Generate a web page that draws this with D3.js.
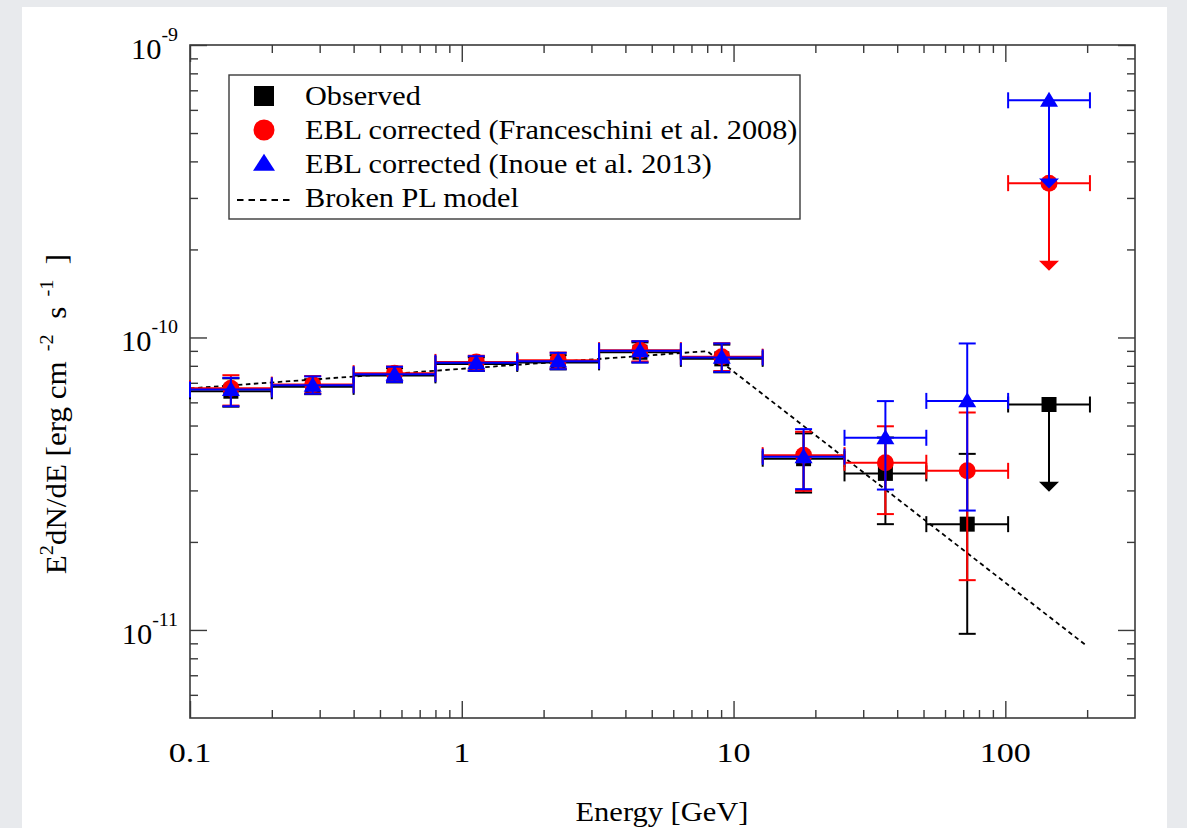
<!DOCTYPE html>
<html><head><meta charset="utf-8">
<script src="https://cdn.jsdelivr.net/npm/d3@7"></script>
<style>
html,body{margin:0;padding:0;background:#e8eaed;}
svg{display:block;}
text{font-family:"Liberation Serif","Times New Roman",serif;fill:#000;}
</style></head>
<body>
<svg id="c" width="1187" height="828"></svg>
<script>
// ---------------- data ----------------
const energy = [0.1414, 0.2828, 0.5657, 1.131, 2.263, 4.525, 9.051, 18.10, 36.20, 72.41, 144.8];
const eLow   = [0.1, 0.2, 0.4, 0.8, 1.6, 3.2, 6.4, 12.8, 25.6, 51.2, 102.4];
const eHigh  = [0.2, 0.4, 0.8, 1.6, 3.2, 6.4, 12.8, 25.6, 51.2, 102.4, 204.8];

// Observed (erg cm^-2 s^-1); last point is an upper limit
const obsVal = [6.55e-11, 6.78e-11, 7.42e-11, 8.12e-11, 8.22e-11, 8.90e-11, 8.45e-11, 3.85e-11, 3.43e-11, 2.30e-11, 5.90e-11];
const obsLo  = [5.80e-11, 6.40e-11, 7.02e-11, 7.68e-11, 7.78e-11, 8.22e-11, 7.60e-11, 2.95e-11, 2.30e-11, 0.97e-11, null];
const obsHi  = [7.25e-11, 7.20e-11, 7.85e-11, 8.55e-11, 8.70e-11, 9.62e-11, 9.45e-11, 4.70e-11, 4.55e-11, 4.00e-11, null];
const obsUL  = [null, null, null, null, null, null, null, null, null, null, 2.97e-11];

// EBL corrected (Franceschini et al. 2008)
const frVal = [6.70e-11, 6.90e-11, 7.55e-11, 8.25e-11, 8.36e-11, 9.05e-11, 8.60e-11, 3.96e-11, 3.73e-11, 3.50e-11, 3.37e-10];
const frLo  = [5.85e-11, 6.44e-11, 7.08e-11, 7.72e-11, 7.82e-11, 8.28e-11, 7.68e-11, 2.99e-11, 2.49e-11, 1.48e-11, null];
const frHi  = [7.43e-11, 7.38e-11, 7.96e-11, 8.66e-11, 8.88e-11, 9.72e-11, 9.56e-11, 4.76e-11, 4.97e-11, 5.54e-11, null];
const frUL  = [null, null, null, null, null, null, null, null, null, null, 1.69e-10];

// EBL corrected (Inoue et al. 2013)
const inVal = [6.64e-11, 6.86e-11, 7.49e-11, 8.19e-11, 8.30e-11, 9.00e-11, 8.55e-11, 3.91e-11, 4.54e-11, 6.07e-11, 6.47e-10];
const inLo  = [5.82e-11, 6.42e-11, 7.05e-11, 7.69e-11, 7.79e-11, 8.21e-11, 7.63e-11, 3.03e-11, 3.02e-11, 2.56e-11, null];
const inHi  = [7.28e-11, 7.36e-11, 7.94e-11, 8.63e-11, 8.86e-11, 9.71e-11, 9.54e-11, 4.86e-11, 6.06e-11, 9.54e-11, null];
const inUL  = [null, null, null, null, null, null, null, null, null, null, 3.23e-10];

// Broken power-law model vertices
const modelE = [0.1, 8.0, 200];
const modelF = [6.70e-11, 8.98e-11, 8.80e-12];

// ticks
const xMajor = [0.1, 1, 10, 100];
const xMajorLabels = ["0.1", "1", "10", "100"];
const xMinor = [0.2,0.3,0.4,0.5,0.6,0.7,0.8,0.9, 2,3,4,5,6,7,8,9, 20,30,40,50,60,70,80,90, 200];
const yMajor = [1e-11, 1e-10, 1e-9];
const yMajorExp = ["-11", "-10", "-9"];
const yMinor = [6e-12,7e-12,8e-12,9e-12, 2e-11,3e-11,4e-11,5e-11,6e-11,7e-11,8e-11,9e-11, 2e-10,3e-10,4e-10,5e-10,6e-10,7e-10,8e-10,9e-10];

const legendLabels = ["Observed", "EBL corrected (Franceschini et al. 2008)", "EBL corrected (Inoue et al. 2013)", "Broken PL model"];

// ---------------- layout ----------------
const svg = d3.select("#c");
svg.append("rect").attr("x", 22).attr("y", 7).attr("width", 1145).attr("height", 821).attr("fill", "#fff");

const L = 190, R = 1135, T = 45, B = 718;
const x = d3.scaleLog().domain([0.1, 300]).range([L, R]);
const y = d3.scaleLog().domain([5e-12, 1e-9]).range([B, T]);

const frameColor = "#3a3a3a";
const axG = svg.append("g");
function styleAxis(g){ g.select(".domain").remove(); g.selectAll("line").attr("stroke", frameColor).attr("stroke-width", 1.4); g.selectAll("text").remove(); }
axG.append("g").attr("transform", `translate(0,${B})`).call(d3.axisBottom(x).tickValues(xMajor).tickSize(-17)).call(styleAxis);
axG.append("g").attr("transform", `translate(0,${B})`).call(d3.axisBottom(x).tickValues(xMinor).tickSize(-8)).call(styleAxis);
axG.append("g").attr("transform", `translate(0,${T})`).call(d3.axisTop(x).tickValues(xMajor).tickSize(-17)).call(styleAxis);
axG.append("g").attr("transform", `translate(0,${T})`).call(d3.axisTop(x).tickValues(xMinor).tickSize(-8)).call(styleAxis);
axG.append("g").attr("transform", `translate(${L},0)`).call(d3.axisLeft(y).tickValues(yMajor).tickSize(-17)).call(styleAxis);
axG.append("g").attr("transform", `translate(${L},0)`).call(d3.axisLeft(y).tickValues(yMinor).tickSize(-8)).call(styleAxis);
axG.append("g").attr("transform", `translate(${R},0)`).call(d3.axisRight(y).tickValues(yMajor).tickSize(-17)).call(styleAxis);
axG.append("g").attr("transform", `translate(${R},0)`).call(d3.axisRight(y).tickValues(yMinor).tickSize(-8)).call(styleAxis);
svg.append("rect").attr("x", L).attr("y", T).attr("width", R - L).attr("height", B - T)
  .attr("fill", "none").attr("stroke", frameColor).attr("stroke-width", 1.6);

// helper: text with horizontal stretch
function stxt(parent, px, py, size, sx, anchor, extra){
  return parent.append("text")
    .attr("transform", `translate(${px},${py})${extra || ""} scale(${sx},1)`)
    .attr("font-size", size).attr("text-anchor", anchor || "start");
}

// tick labels
const xl = svg.append("g");
xMajor.forEach((d, i) => stxt(xl, x(d), B + 44, 28, 1.22, "middle").text(xMajorLabels[i]));
const ylg = svg.append("g");
yMajor.forEach((d, i) => {
  const t = stxt(ylg, 178, y(d) + 14, 29, 1.05, "end");
  t.append("tspan").text("10");
  t.append("tspan").attr("dy", -18).attr("font-size", 19).text(yMajorExp[i]);
});

// axis titles
stxt(svg, 662, 821, 28, 1.09, "middle").text("Energy [GeV]");
const yt = stxt(svg, 66, 414, 29, 1.07, "middle", " rotate(-90)");
yt.append("tspan").text("E");
yt.append("tspan").attr("dy", -13).attr("font-size", 19).text("2");
yt.append("tspan").attr("dy", 13).text("dN/dE [erg cm");
yt.append("tspan").attr("dy", -13).attr("font-size", 19).text("\u00a0\u00a0-2");
yt.append("tspan").attr("dy", 13).text("\u00a0\u00a0s");
yt.append("tspan").attr("dy", -13).attr("font-size", 19).text("\u00a0\u00a0-1");
yt.append("tspan").attr("dy", 13).text("\u00a0\u00a0]");

// ---------------- model ----------------
const modelPts = modelE.map((e, i) => [x(e), y(modelF[i])]);
svg.append("path").attr("d", d3.line()(modelPts)).attr("fill", "none")
  .attr("stroke", "#000").attr("stroke-width", 1.8).attr("stroke-dasharray", "4.5,3.5");

// ---------------- data series ----------------
const plot = svg.append("g");
function sq(s){ return `M${-s/2},${-s/2}h${s}v${s}h${-s}Z`; }
function tri(w, h){ return `M0,${-h*0.57}L${w/2},${h*0.43}L${-w/2},${h*0.43}Z`; }

function drawSeries(vals, lo, hi, ul, color, marker){
  const g = plot.append("g");
  const sw = 2;
  vals.forEach((v, i) => {
    const cx = x(energy[i]), cy = y(v);
    g.append("line").attr("x1", x(eLow[i])).attr("x2", x(eHigh[i])).attr("y1", cy).attr("y2", cy).attr("stroke", color).attr("stroke-width", sw);
    [eLow[i], eHigh[i]].forEach(e => g.append("line").attr("x1", x(e)).attr("x2", x(e)).attr("y1", cy - 8).attr("y2", cy + 8).attr("stroke", color).attr("stroke-width", sw));
    if (lo[i] != null) {
      g.append("line").attr("x1", cx).attr("x2", cx).attr("y1", y(hi[i])).attr("y2", y(lo[i])).attr("stroke", color).attr("stroke-width", sw);
      [lo[i], hi[i]].forEach(f => g.append("line").attr("x1", cx - 8.5).attr("x2", cx + 8.5).attr("y1", y(f)).attr("y2", y(f)).attr("stroke", color).attr("stroke-width", sw));
    }
    if (ul[i] != null) {
      const ty = y(ul[i]);
      g.append("line").attr("x1", cx).attr("x2", cx).attr("y1", cy).attr("y2", ty - 8).attr("stroke", color).attr("stroke-width", sw);
      g.append("path").attr("d", `M${cx - 10},${ty - 10}L${cx + 10},${ty - 10}L${cx},${ty}Z`).attr("fill", color);
    }
    const m = g.append("path").attr("transform", `translate(${cx},${cy})`).attr("fill", color);
    if (marker === "square") m.attr("d", sq(15));
    else if (marker === "circle") m.attr("d", d3.symbol(d3.symbolCircle, Math.PI * 8.5 * 8.5)());
    else m.attr("d", tri(18, 15));
  });
}
drawSeries(obsVal, obsLo, obsHi, obsUL, "#000000", "square");
drawSeries(frVal, frLo, frHi, frUL, "#ff0000", "circle");
drawSeries(inVal, inLo, inHi, inUL, "#0000ff", "triangle");

// ---------------- legend ----------------
const lg = svg.append("g");
lg.append("rect").attr("x", 229).attr("y", 75).attr("width", 571).attr("height", 144)
  .attr("fill", "#fff").attr("stroke", frameColor).attr("stroke-width", 1.4);
const rowY = [105, 139, 172.5, 207];
legendLabels.forEach((d, i) => stxt(lg, 305, rowY[i], 28, 1.08, "start").text(d));
lg.append("path").attr("transform", `translate(264,${rowY[0] - 9})`).attr("d", sq(20)).attr("fill", "#000");
lg.append("path").attr("transform", `translate(264,${rowY[1] - 9})`).attr("d", d3.symbol(d3.symbolCircle, Math.PI * 10.5 * 10.5)()).attr("fill", "#ff0000");
lg.append("path").attr("transform", `translate(264,${rowY[2] - 9})`).attr("d", tri(22, 17)).attr("fill", "#0000ff");
lg.append("line").attr("x1", 237).attr("x2", 291).attr("y1", rowY[3] - 7).attr("y2", rowY[3] - 7)
  .attr("stroke", "#000").attr("stroke-width", 1.8).attr("stroke-dasharray", "6.5,5");
</script>
</body></html>
